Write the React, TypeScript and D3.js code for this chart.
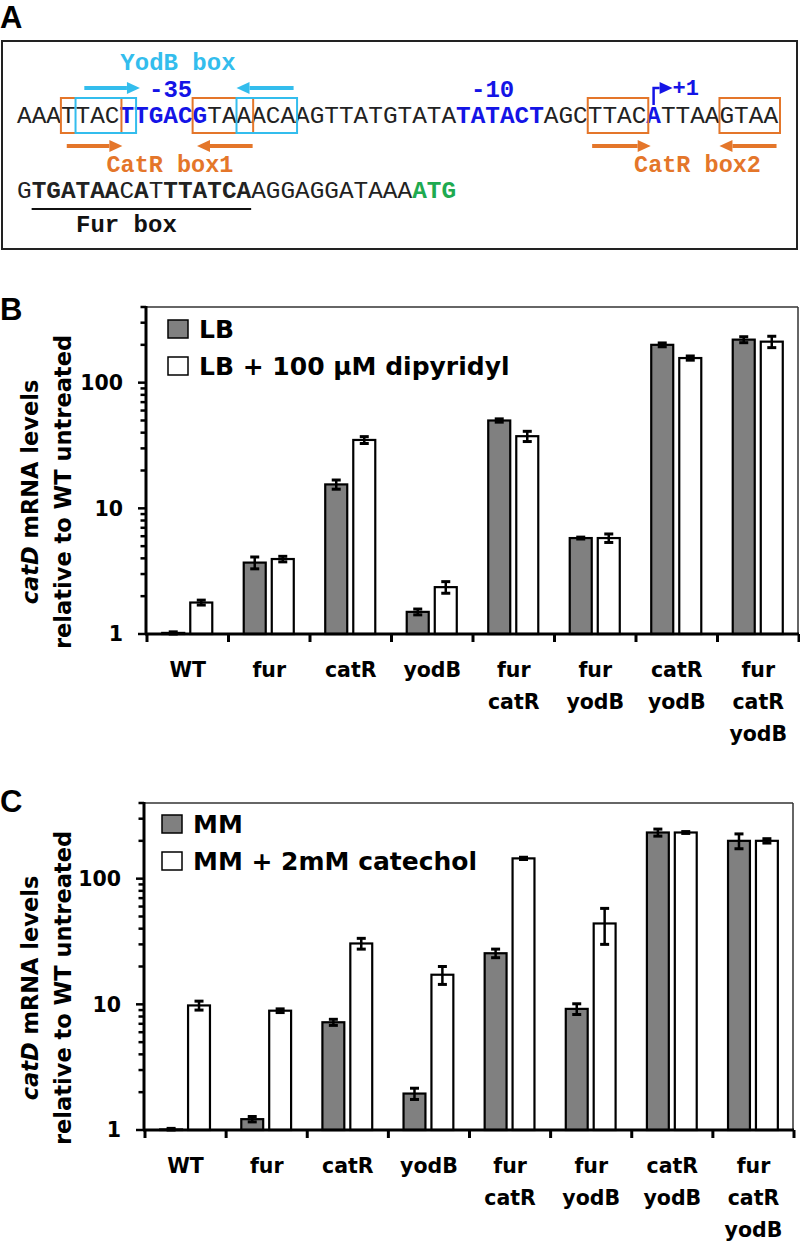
import React from "react";
import * as d3 from "d3";

// ---------- Panel A data ----------
const seq1Segments: { t: string; s: string }[] = [
  { t: "AAATTAC", s: "n" },
  { t: "TTGACG", s: "blue" },
  { t: "TAAACAAGTTATGTATA", s: "n" },
  { t: "TATACT", s: "blue" },
  { t: "AGCTTAC", s: "n" },
  { t: "A", s: "blue" },
  { t: "TTAAGTAA", s: "n" },
];
const seq2Segments: { t: string; s: string }[] = [
  { t: "G", s: "n" },
  { t: "TGATAA", s: "b" },
  { t: "C", s: "n" },
  { t: "A", s: "b" },
  { t: "T", s: "n" },
  { t: "TTATCA", s: "b" },
  { t: "AGGAGGATAAA", s: "n" },
  { t: "ATG", s: "green" },
];
// boxes: [startIndex, endIndex) over sequence line 1
const catRBoxes = [[3, 7], [12, 16], [39, 43], [48, 52]];
const yodBBoxes = [[4, 8], [15, 19]];
// arrows in character units
const yodBArrows = [[4.6, 8.4], [18.9, 15.0]];
const catRArrows = [[3.4, 7.2], [16.1, 12.3], [39.3, 43.3], [51.9, 48.0]];
const furBoxRange = [1, 16];
const promoterLabels = [
  { t: "-35", at: 10.5 },
  { t: "-10", at: 32.5 },
];
const tssIndex = 43;

// ---------- Panel B/C data ----------
const categories = [
  ["WT"], ["fur"], ["catR"], ["yodB"],
  ["fur", "catR"], ["fur", "yodB"], ["catR", "yodB"], ["fur", "catR", "yodB"],
];
const yTickLabels = ["1", "10", "100"];

const lbValues = [1.02, 3.7, 15.5, 1.5, 50, 5.8, 200, 220];
const lbErrors = [0.02, 0.4, 1.3, 0.08, 1.5, 0.1, 7, 12];
const dipValues = [1.78, 3.95, 35, 2.36, 37.5, 5.8, 157, 212];
const dipErrors = [0.08, 0.2, 2.2, 0.25, 3.5, 0.45, 6, 22];

const mmValues = [1.01, 1.22, 7.2, 1.95, 25.5, 9.2, 233, 200];
const mmErrors = [0.02, 0.06, 0.4, 0.2, 2, 0.9, 15, 27];
const catValues = [9.8, 8.9, 30.5, 17.2, 145, 44, 233, 200];
const catErrors = [0.8, 0.3, 3, 2.8, 3, 14, 4, 8];

const ORANGE = "#E4762A";
const CYAN = "#33BDED";
const BLUE = "#1414E6";
const GREEN = "#1EAA50";
const GRAY = "#808080";
const SANS = "'DejaVu Sans', Verdana, sans-serif";
const MONO = "'Liberation Mono', 'Courier New', monospace";

function Arrow({ x1, x2, y, color }: { x1: number; x2: number; y: number; color: string }) {
  const dir = Math.sign(x2 - x1);
  const headLen = 13;
  const headHalf = 6;
  const xb = x2 - dir * headLen;
  return (
    <g>
      <line x1={x1} y1={y} x2={xb} y2={y} stroke={color} strokeWidth={4} />
      <path d={`M${x2},${y} L${xb},${y - headHalf} L${xb},${y + headHalf} Z`} fill={color} />
    </g>
  );
}

function SeqLine({ segs, y, cx }: { segs: { t: string; s: string }[]; y: number; cx: d3.ScaleLinear<number, number> }) {
  let idx = 0;
  return (
    <g>
      {segs.map((sg, i) => {
        const start = idx;
        idx += sg.t.length;
        const fill = sg.s === "blue" ? BLUE : sg.s === "green" ? GREEN : "#222";
        const weight = sg.s === "n" ? "normal" : "bold";
        return (
          <text key={i} x={cx(start)} y={y} fontFamily={MONO} fontSize={24.4} fill={fill} fontWeight={weight}>
            {sg.t}
          </text>
        );
      })}
    </g>
  );
}

function PanelA() {
  const cx = d3.scaleLinear().domain([0, 52]).range([17, 778]);
  const boxTop = 98, boxBot = 133;
  return (
    <g>
      <text x={0} y={28} fontFamily="'Liberation Sans', Arial, sans-serif" fontWeight="bold" fontSize={31}>A</text>
      <rect x={2} y={41} width={795} height={208} fill="none" stroke="#222" strokeWidth={2} />
      <text x={cx(11)} y={70} textAnchor="middle" fontFamily={MONO} fontWeight="bold" fontSize={24} fill={CYAN}>YodB box</text>
      {yodBArrows.map((a, i) => (
        <Arrow key={"ya" + i} x1={cx(a[0])} x2={cx(a[1])} y={88} color={CYAN} />
      ))}
      {promoterLabels.map((p, i) => (
        <text key={"p" + i} x={cx(p.at)} y={97} textAnchor="middle" fontFamily={MONO} fontWeight="bold" fontSize={24} fill={BLUE}>{p.t}</text>
      ))}
      <path d={`M${cx(tssIndex + 0.5)},${105} L${cx(tssIndex + 0.5)},${88} L${cx(tssIndex + 0.5) + 6},${88}`} fill="none" stroke={BLUE} strokeWidth={2.5} />
      <path d={`M${cx(tssIndex + 0.5) + 19},88 L${cx(tssIndex + 0.5) + 6},82 L${cx(tssIndex + 0.5) + 6},94 Z`} fill={BLUE} />
      <text x={cx(tssIndex + 0.5) + 19} y={95} fontFamily={MONO} fontWeight="bold" fontSize={22} fill={BLUE}>+1</text>
      <SeqLine segs={seq1Segments} y={123} cx={cx} />
      {catRBoxes.map((b, i) => (
        <rect key={"cb" + i} x={cx(b[0])} y={boxTop} width={cx(b[1]) - cx(b[0]) + 2} height={boxBot - boxTop} fill="none" stroke={ORANGE} strokeWidth={2} />
      ))}
      {yodBBoxes.map((b, i) => (
        <rect key={"yb" + i} x={cx(b[0])} y={boxTop} width={cx(b[1]) - cx(b[0]) + 2} height={boxBot - boxTop} fill="none" stroke={CYAN} strokeWidth={2} />
      ))}
      {catRArrows.map((a, i) => (
        <Arrow key={"ca" + i} x1={cx(a[0])} x2={cx(a[1])} y={146} color={ORANGE} />
      ))}
      <text x={cx(10.45)} y={172} textAnchor="middle" fontFamily={MONO} fontWeight="bold" fontSize={23.5} fill={ORANGE}>CatR box1</text>
      <text x={cx(46.5)} y={172} textAnchor="middle" fontFamily={MONO} fontWeight="bold" fontSize={23.5} fill={ORANGE}>CatR box2</text>
      <SeqLine segs={seq2Segments} y={198} cx={cx} />
      <line x1={cx(furBoxRange[0])} x2={cx(furBoxRange[1])} y1={209} y2={209} stroke="#111" strokeWidth={2} />
      <text x={76} y={232} fontFamily={MONO} fontWeight="bold" fontSize={24} fill="#111">Fur box</text>
    </g>
  );
}

type PanelProps = {
  top: number; bottom: number; left: number; right: number;
  a: number[]; aErr: number[]; b: number[]; bErr: number[];
  legendA: string; legendB: string;
  legendX: number; legendY: number; letter: string; letterY: number;
  labelCy: number;
};

function BarPanel(p: PanelProps) {
  const x = d3.scaleBand<number>().domain(d3.range(categories.length)).range([p.left, p.right]);
  const y = d3.scaleLog().domain([1, 400]).range([p.bottom, p.top]);
  const bw = x.bandwidth();
  const barW = bw * 0.27;
  const gap = bw * 0.074;
  const ticks = y.ticks();
  const capW = 9;
  const series = [
    { vals: p.a, errs: p.aErr, fill: GRAY, off: -gap / 2 - barW },
    { vals: p.b, errs: p.bErr, fill: "#fff", off: gap / 2 },
  ];
  const boundaries = d3.range(categories.length + 1).map((i) => (i < categories.length ? (x(i) as number) : p.right));
  return (
    <g>
      <text x={0} y={p.letterY} fontFamily="'Liberation Sans', Arial, sans-serif" fontWeight="bold" fontSize={31}>{p.letter}</text>
      <line x1={p.left} x2={p.right} y1={p.top} y2={p.top} stroke="#333" strokeWidth={1.5} />
      <line x1={p.right} x2={p.right} y1={p.top} y2={p.bottom} stroke="#333" strokeWidth={1.5} />
      {series.map((s, si) =>
        s.vals.map((v, i) => {
          const c = (x(i) as number) + bw / 2 + 0.5;
          const bx = c + s.off;
          const yt = y(v);
          const e = s.errs[i];
          const mx = bx + barW / 2;
          const yHi = y(v + e);
          const yLo = y(Math.max(1, v - e));
          return (
            <g key={si + "-" + i}>
              <rect x={bx} y={yt} width={barW} height={p.bottom - yt} fill={s.fill} stroke="#000" strokeWidth={2.2} />
              <line x1={mx} x2={mx} y1={yHi} y2={yLo} stroke="#000" strokeWidth={2.5} />
              <line x1={mx - capW / 2} x2={mx + capW / 2} y1={yHi} y2={yHi} stroke="#000" strokeWidth={3} />
              <line x1={mx - capW / 2} x2={mx + capW / 2} y1={yLo} y2={yLo} stroke="#000" strokeWidth={3} />
            </g>
          );
        })
      )}
      <line x1={p.left} x2={p.left} y1={p.top - 1} y2={p.bottom + 1} stroke="#000" strokeWidth={3} />
      {ticks.map((t, i) => {
        const major = Math.abs(Math.log10(t) - Math.round(Math.log10(t))) < 1e-9;
        return (
          <line key={"yt" + i} x1={p.left - (major ? 8 : 5.5)} x2={p.left} y1={y(t)} y2={y(t)} stroke="#000" strokeWidth={2.5} />
        );
      })}
      {yTickLabels.map((l, i) => (
        <text key={"yl" + i} x={p.left - 23} y={y(+l)} dy="0.36em" textAnchor="end" fontFamily={SANS} fontWeight="bold" fontSize={20.5}>{l}</text>
      ))}
      <line x1={p.left - 1} x2={p.right + 1} y1={p.bottom} y2={p.bottom} stroke="#000" strokeWidth={3} />
      {boundaries.map((bx, i) => (
        <line key={"xt" + i} x1={bx + 1} x2={bx + 1} y1={p.bottom} y2={p.bottom + 8} stroke="#000" strokeWidth={3} />
      ))}
      {categories.map((lines, i) => (
        <text key={"xl" + i} x={(x(i) as number) + bw / 2 + 1} y={p.bottom + 43} textAnchor="middle" fontFamily={SANS} fontWeight="bold" fontSize={20.5}>
          {lines.map((ln, j) => (
            <tspan key={j} x={(x(i) as number) + bw / 2 + 1} dy={j === 0 ? 0 : 32}>{ln}</tspan>
          ))}
        </text>
      ))}
      <g transform={`translate(38,${p.labelCy}) rotate(-90)`}>
        <text textAnchor="middle" fontFamily={SANS} fontWeight="bold" fontSize={22.5}>
          <tspan fontStyle="italic">catD</tspan> mRNA levels
        </text>
      </g>
      <g transform={`translate(71,${p.labelCy}) rotate(-90)`}>
        <text textAnchor="middle" fontFamily={SANS} fontWeight="bold" fontSize={22.5}>relative to WT untreated</text>
      </g>
      <rect x={p.legendX} y={p.legendY} width={20} height={18} fill={GRAY} stroke="#000" strokeWidth={1.5} />
      <text x={p.legendX + 31} y={p.legendY + 18} fontFamily={SANS} fontWeight="bold" fontSize={25}>{p.legendA}</text>
      <rect x={p.legendX} y={p.legendY + 37} width={20} height={18} fill="#fff" stroke="#000" strokeWidth={1.5} />
      <text x={p.legendX + 31} y={p.legendY + 55} fontFamily={SANS} fontWeight="bold" fontSize={25}>{p.legendB}</text>
    </g>
  );
}

export default function App() {
  return (
    <svg width={800} height={1243} viewBox="0 0 800 1243" style={{ position: "absolute", left: 0, top: 0, background: "#fff" }}>
      <rect x={0} y={0} width={800} height={1243} fill="#fff" />
      <PanelA />
      <BarPanel
        top={307} bottom={634} left={146} right={798}
        a={lbValues} aErr={lbErrors} b={dipValues} bErr={dipErrors}
        legendA="LB" legendB="LB + 100 µM dipyridyl"
        legendX={168} legendY={320} letter="B" letterY={320} labelCy={492}
      />
      <BarPanel
        top={803} bottom={1130} left={144} right={793}
        a={mmValues} aErr={mmErrors} b={catValues} bErr={catErrors}
        legendA="MM" legendB="MM + 2mM catechol"
        legendX={162} legendY={815} letter="C" letterY={812} labelCy={988}
      />
    </svg>
  );
}
